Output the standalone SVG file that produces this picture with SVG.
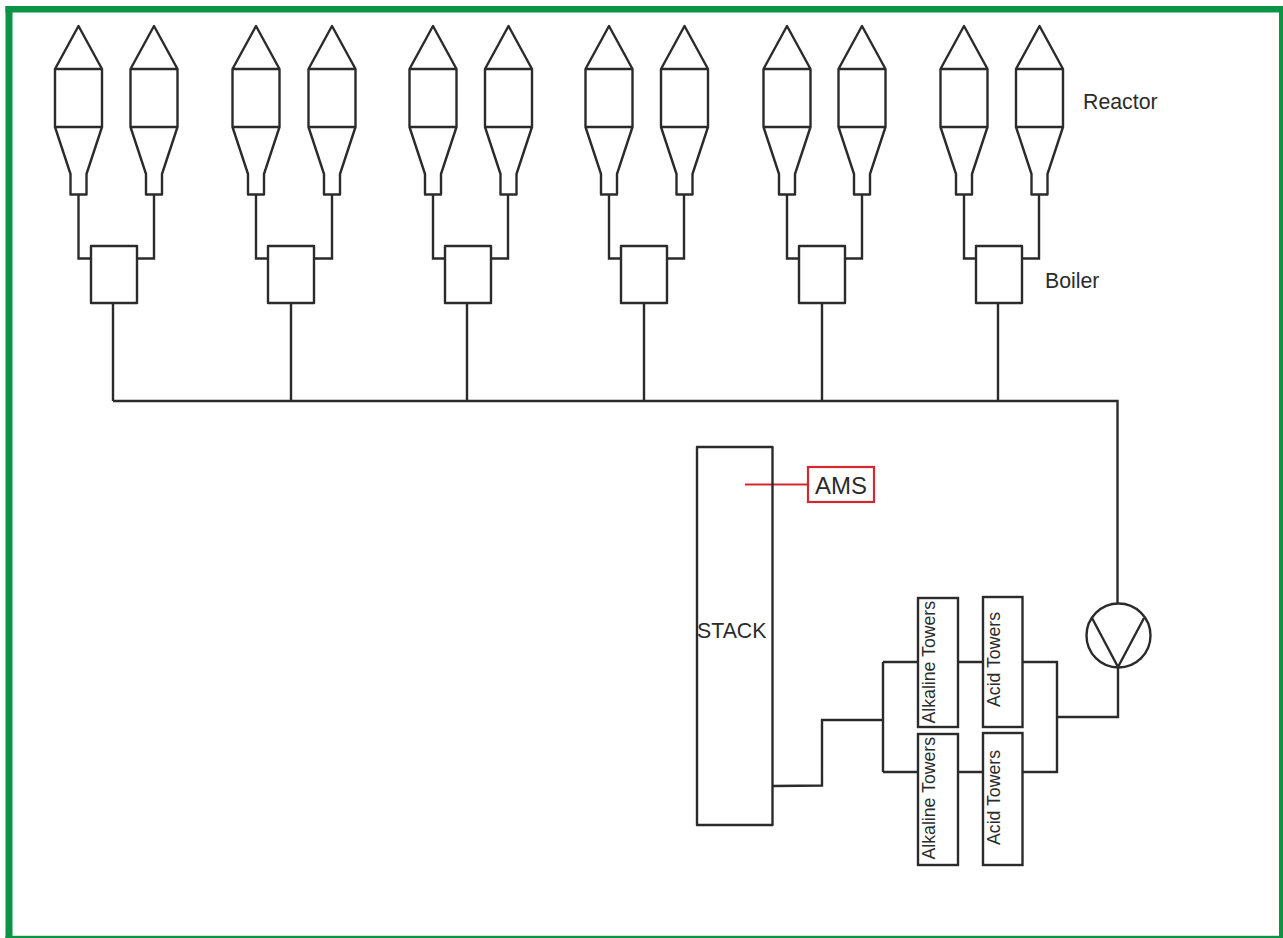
<svg xmlns="http://www.w3.org/2000/svg" width="1283" height="938" viewBox="0 0 1283 938">
<style>
.s{fill:none;stroke:#2b2b2b;stroke-width:2.400;stroke-linejoin:round}
.c{fill:none;stroke:#2b2b2b;stroke-width:2.400}
.b{fill:#fff;stroke:#2b2b2b;stroke-width:2.400}
.t{font-family:"Liberation Sans",Arial,sans-serif;fill:#2b2b2b}
.l{font-size:21.300px}
.v{font-size:17.700px}
.g{fill:#0b9444}
</style>
<defs>
<g id="reactor"><path class="s" d="M0 26L-23.500 69V127L-8 174V194.500H8V174L23.500 127V69ZM-23.500 69H23.500M-23.500 127H23.500"/></g>
</defs>
<rect width="1283" height="938" fill="#fff"/>
<rect class="g" x="5.500" y="6" width="1277.500" height="6.500"/>
<rect class="g" x="5.500" y="6" width="7" height="932"/>
<rect class="g" x="5.500" y="935.800" width="1277.500" height="2.200"/>
<rect class="g" x="1279" y="6" width="4" height="932"/>
<g id="connectors">
<path class="c" d="M78.500 194V258.500H91M154 194V258.500H137M113 303V401M256 194V258.500H268M332 194V258.500H314M291 303V401M433 194V258.500H445M508 194V258.500H491M467 303V401M609 194V258.500H621M684 194V258.500H667M644 303V401M787 194V258.500H799M862 194V258.500H845M822 303V401M964 194V258.500H976M1039 194V258.500H1022M998 303V401"/>
<path class="c" d="M113 401H1117.500V604M1118 667V717H1058M958 662H983M958 772H983M1023 662H1057V772H1023M773 786L822 785.500V720H883M883 662V772M883 662H918M883 772H918"/>
<path d="M745 484.500H808" fill="none" stroke="#d2282e" stroke-width="2.200"/>
</g>
<g id="reactor-1"><use href="#reactor" x="78.500"/></g>
<g id="reactor-2"><use href="#reactor" x="154"/></g>
<g id="reactor-3"><use href="#reactor" x="256"/></g>
<g id="reactor-4"><use href="#reactor" x="332"/></g>
<g id="reactor-5"><use href="#reactor" x="433"/></g>
<g id="reactor-6"><use href="#reactor" x="508.500"/></g>
<g id="reactor-7"><use href="#reactor" x="609"/></g>
<g id="reactor-8"><use href="#reactor" x="684.500"/></g>
<g id="reactor-9"><use href="#reactor" x="787"/></g>
<g id="reactor-10"><use href="#reactor" x="862"/></g>
<g id="reactor-11"><use href="#reactor" x="964"/></g>
<g id="reactor-12"><use href="#reactor" x="1039.500"/></g>
<g id="reactor-label"><text class="t l" x="1083" y="109">Reactor</text></g>
<g id="boiler-1"><rect class="s" x="91" y="246" width="46" height="57"/></g>
<g id="boiler-2"><rect class="s" x="268" y="246" width="46" height="57"/></g>
<g id="boiler-3"><rect class="s" x="445" y="246" width="46" height="57"/></g>
<g id="boiler-4"><rect class="s" x="621" y="246" width="46" height="57"/></g>
<g id="boiler-5"><rect class="s" x="799" y="246" width="46" height="57"/></g>
<g id="boiler-6"><rect class="s" x="976" y="246" width="46" height="57"/></g>
<g id="boiler-label"><text class="t l" x="1045" y="288">Boiler</text></g>
<g id="stack"><rect class="s" x="697" y="447" width="75.500" height="378"/><text class="t l" x="697" y="638">STACK</text></g>
<g id="ams"><rect x="808" y="467" width="66" height="35" fill="#fff" stroke="#d2282e" stroke-width="2.200"/><text class="t" x="815" y="494" font-size="24">AMS</text></g>
<g id="alkaline-1"><rect class="b" x="918" y="598" width="40" height="129"/><text class="t v" transform="translate(935 723.500) rotate(-90)">Alkaline Towers</text></g>
<g id="acid-1"><rect class="b" x="983" y="597" width="39.500" height="130"/><text class="t v" transform="translate(999.500 707) rotate(-90)">Acid Towers</text></g>
<g id="alkaline-2"><rect class="b" x="918" y="734" width="40" height="131"/><text class="t v" transform="translate(935 859.500) rotate(-90)">Alkaline Towers</text></g>
<g id="acid-2"><rect class="b" x="983" y="733" width="39.500" height="132"/><text class="t v" transform="translate(999.500 845) rotate(-90)">Acid Towers</text></g>
<g id="pump"><circle class="s" cx="1118.500" cy="635.500" r="32"/><path class="s" d="M1092 618L1118 667L1144 618"/></g>
</svg>
